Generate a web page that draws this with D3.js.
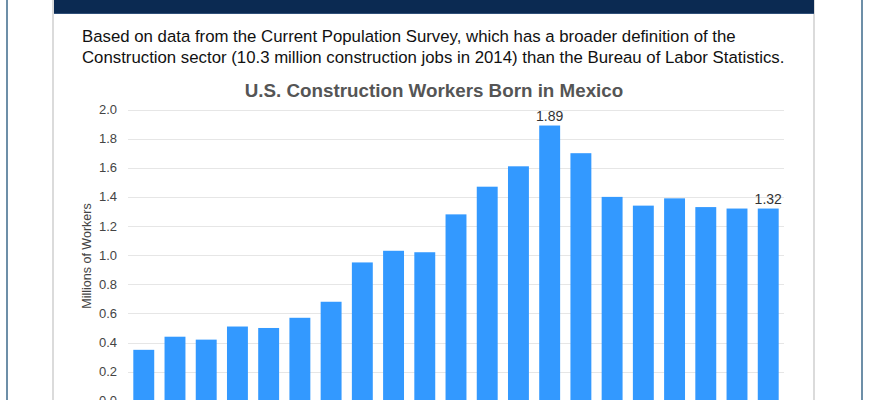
<!DOCTYPE html>
<html lang="en">
<head>
    <meta charset="UTF-8">
    <title>U.S. Construction Workers Born in Mexico</title>
    <script src="https://d3js.org/d3.v7.min.js"></script>
    <style>
        body { margin: 0; background: #fff; }
        svg { display: block; font-family: "Liberation Sans", Arial, Helvetica, sans-serif; }
        .grid { stroke: #e6e6e6; stroke-width: 1; }
        .tick-label { font-size: 13px; fill: #444; }
        .bar { fill: #3399ff; }
        .value-label { font-size: 14px; fill: #333; }
    </style>
</head>
<body>
    <svg id="chart" width="870" height="400"></svg>

    <script>
        // Data (millions of workers)
        const years = ['1994', '1995', '1996', '1997', '1998', '1999', '2000', '2001', '2002', '2003', '2004',
                       '2005', '2006', '2007', '2008', '2009', '2010', '2011', '2012', '2013', '2014'];
        const workers = [0.35, 0.44, 0.42, 0.51, 0.50, 0.57, 0.68, 0.95, 1.03, 1.02, 1.28,
                         1.47, 1.61, 1.89, 1.70, 1.40, 1.34, 1.39, 1.33, 1.32, 1.32];
        const yTicks = [0, 0.2, 0.4, 0.6, 0.8, 1.0, 1.2, 1.4, 1.6, 1.8, 2.0];

        const introLines = [
            'Based on data from the Current Population Survey, which has a broader definition of the',
            'Construction sector (10.3 million construction jobs in 2014) than the Bureau of Labor Statistics.'
        ];
        const chartTitle = 'U.S. Construction Workers Born in Mexico';
        const yTitle = 'Millions of Workers';

        const svg = d3.select('#chart');

        // Page frame: outer blue-gray rules, inner gray panel borders, navy header strip
        svg.append('line').attr('x1', 7).attr('x2', 7).attr('y1', 0).attr('y2', 400)
            .attr('stroke', '#6d8fa8').attr('stroke-width', 2);
        svg.append('line').attr('x1', 862).attr('x2', 862).attr('y1', 0).attr('y2', 400)
            .attr('stroke', '#6d8fa8').attr('stroke-width', 2);
        svg.append('line').attr('x1', 53).attr('x2', 53).attr('y1', 0).attr('y2', 400)
            .attr('stroke', '#cfcfcf').attr('stroke-width', 1.5);
        svg.append('line').attr('x1', 814).attr('x2', 814).attr('y1', 0).attr('y2', 400)
            .attr('stroke', '#cfcfcf').attr('stroke-width', 1.5);
        svg.append('rect').attr('x', 54).attr('y', 0).attr('width', 760).attr('height', 14)
            .attr('fill', '#0b2a52');
        svg.append('line').attr('x1', 54).attr('x2', 814).attr('y1', 13.5).attr('y2', 13.5)
            .attr('stroke', '#2f4f78').attr('stroke-width', 1);

        // Intro paragraph
        svg.append('g').selectAll('text')
            .data(introLines)
            .join('text')
            .attr('x', 82)
            .attr('y', (d, i) => 42 + i * 20.5)
            .attr('font-size', 16.8)
            .attr('fill', '#111')
            .text(d => d);

        // Chart title
        svg.append('text')
            .attr('x', 434)
            .attr('y', 97)
            .attr('text-anchor', 'middle')
            .attr('font-size', 18.8)
            .attr('font-weight', 'bold')
            .attr('fill', '#555')
            .text(chartTitle);

        const plot = { left: 128, right: 784, top: 109.5, bottom: 400.8 };

        const x = d3.scaleBand()
            .domain(years)
            .range([plot.left, plot.right])
            .paddingInner(0.33)
            .paddingOuter(0.17);

        const y = d3.scaleLinear()
            .domain([0, 2])
            .range([plot.bottom, plot.top]);

        // Gridlines
        svg.append('g').selectAll('line')
            .data(yTicks)
            .join('line')
            .attr('class', 'grid')
            .attr('x1', plot.left)
            .attr('x2', plot.right)
            .attr('y1', d => Math.round(y(d)) + 0.5)
            .attr('y2', d => Math.round(y(d)) + 0.5);

        // Y tick labels
        svg.append('g').selectAll('text')
            .data(yTicks)
            .join('text')
            .attr('class', 'tick-label')
            .attr('x', 117)
            .attr('y', d => y(d))
            .attr('dy', '0.35em')
            .attr('text-anchor', 'end')
            .text(d => d.toFixed(1));

        // Y axis title
        svg.append('text')
            .attr('transform', 'translate(91,256) rotate(-90)')
            .attr('text-anchor', 'middle')
            .attr('font-size', 12.5)
            .attr('fill', '#444')
            .text(yTitle);

        // Bars
        svg.append('g').selectAll('rect')
            .data(workers)
            .join('rect')
            .attr('class', 'bar')
            .attr('x', (d, i) => x(years[i]))
            .attr('width', x.bandwidth())
            .attr('y', d => y(d))
            .attr('height', d => y(0) - y(d));

        // Value labels on the peak and the latest year
        const peak = workers.indexOf(d3.max(workers));
        const labelled = [peak, workers.length - 1];
        svg.append('g').selectAll('text')
            .data(labelled)
            .join('text')
            .attr('class', 'value-label')
            .attr('x', i => x(years[i]) + x.bandwidth() / 2)
            .attr('y', i => y(workers[i]) - 5)
            .attr('text-anchor', 'middle')
            .text(i => workers[i].toFixed(2));
    </script>
</body>
</html>
